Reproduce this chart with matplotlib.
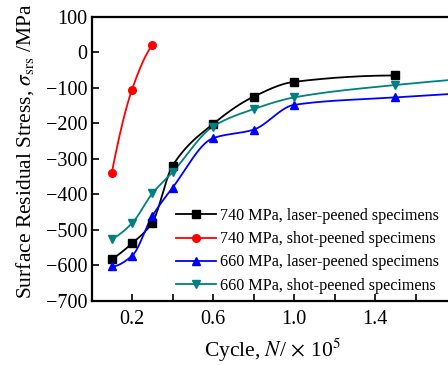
import numpy as np
import matplotlib
matplotlib.use("Agg")
import matplotlib.pyplot as plt
from matplotlib.ticker import MultipleLocator, FixedLocator, FuncFormatter

plt.rcParams['font.family'] = ['Liberation Serif', 'DejaVu Serif']
plt.rcParams['mathtext.fontset'] = 'stix'

# Data (cycles in units of 1e5, stress in MPa)
x_740_laser = [0.1, 0.2, 0.3, 0.4, 0.6, 0.8, 1.0, 1.5]
y_740_laser = [-584, -539, -480, -320, -202, -125, -83, -65]

x_740_shot = [0.1, 0.2, 0.3]
y_740_shot = [-340, -105, 20]

x_660_laser = [0.1, 0.2, 0.3, 0.4, 0.6, 0.8, 1.0, 1.5, 2.0]
y_660_laser = [-604, -574, -462, -382, -242, -218, -148, -127, -110]

x_660_shot = [0.1, 0.2, 0.3, 0.4, 0.6, 0.8, 1.0, 1.5, 2.0]
y_660_shot = [-526, -482, -398, -338, -209, -160, -127, -92, -68]

labels = ["740 MPa, laser-peened specimens",
          "740 MPa, shot-peened specimens",
          "660 MPa, laser-peened specimens",
          "660 MPa, shot-peened specimens"]
colors = ["black", "red", "blue", "#008080"]
markers = ["s", "o", "^", "v"]


def pchip(x, y, n=400):
    """Monotone piecewise cubic (Fritsch-Carlson) curve through the points."""
    x = np.asarray(x, float)
    y = np.asarray(y, float)
    h = np.diff(x)
    d = np.diff(y) / h
    m = np.zeros_like(y)
    for i in range(1, len(x) - 1):
        if d[i - 1] * d[i] > 0:
            w1 = 2 * h[i] + h[i - 1]
            w2 = h[i] + 2 * h[i - 1]
            m[i] = (w1 + w2) / (w1 / d[i - 1] + w2 / d[i])
    m[0] = d[0]
    m[-1] = d[-1]
    if len(x) > 2:
        m[0] = ((2 * h[0] + h[1]) * d[0] - h[0] * d[1]) / (h[0] + h[1])
        if np.sign(m[0]) != np.sign(d[0]):
            m[0] = 0
        m[-1] = ((2 * h[-1] + h[-2]) * d[-1] - h[-1] * d[-2]) / (h[-1] + h[-2])
        if np.sign(m[-1]) != np.sign(d[-1]):
            m[-1] = 0
    xs = np.linspace(x[0], x[-1], n)
    idx = np.clip(np.searchsorted(x, xs, side='right') - 1, 0, len(x) - 2)
    t = (xs - x[idx]) / h[idx]
    h00 = 2 * t ** 3 - 3 * t ** 2 + 1
    h10 = t ** 3 - 2 * t ** 2 + t
    h01 = -2 * t ** 3 + 3 * t ** 2
    h11 = t ** 3 - t ** 2
    ys = (h00 * y[idx] + h10 * h[idx] * m[idx] + h01 * y[idx + 1]
          + h11 * h[idx] * m[idx + 1])
    return xs, ys


W, H = 448, 365
fig = plt.figure(figsize=(W / 100, H / 100), dpi=100)
left, bottom = 91.5 / W, 64.5 / H
ax = fig.add_axes([left, bottom, 405 / W, 283.5 / H])

series = [(x_740_laser, y_740_laser), (x_740_shot, y_740_shot),
          (x_660_laser, y_660_laser), (x_660_shot, y_660_shot)]
handles = []
for (xs, ys), c, mk, lb in zip(series, colors, markers, labels):
    sx, sy = pchip(xs, ys)
    ax.plot(sx, sy, color=c, lw=1.3, zorder=2)
    ax.plot(xs, ys, linestyle='none', marker=mk, color=c, ms=5.5, zorder=3,
            clip_on=False)
    h, = ax.plot([], [], color=c, lw=1.3, marker=mk, ms=5.5, label=lb)
    handles.append(h)

ax.set_xlim(0, 2.0)
ax.set_ylim(-700, 100)
ax.xaxis.set_major_locator(FixedLocator([0.2, 0.6, 1.0, 1.4]))
ax.xaxis.set_minor_locator(FixedLocator([0.4, 0.8, 1.2, 1.6, 1.8, 2.0]))
ax.yaxis.set_major_locator(MultipleLocator(100))
ax.xaxis.set_major_formatter(FuncFormatter(lambda v, p: f"{v:.1f}"))
ax.yaxis.set_major_formatter(FuncFormatter(
    lambda v, p: f"{int(v)}".replace('-', '\u2212')))

ax.tick_params(axis='both', which='both', direction='in', labelsize=14.5,
               width=1.2, top=False, right=False)
ax.tick_params(axis='x', which='major', length=5, pad=7)
ax.tick_params(axis='x', which='minor', length=5)
ax.tick_params(axis='y', which='major', length=5, pad=3)
for s in ax.spines.values():
    s.set_linewidth(1.6)

ax.set_xlabel(r"Cycle, $N$/$\,\times\,$10$^5$", fontsize=15.5)
ax.xaxis.set_label_coords((272 - 91.5) / 405, -(350 - 300.5) / 283.5)
ax.xaxis.label.set_va('center')
ax.set_ylabel(r"Surface Residual Stress, $\sigma_{\rm srs}$ /MPa", fontsize=15.5)
ax.yaxis.set_label_coords(-(91.5 - 25) / 405, (300.5 - 151) / 283.5)
ax.yaxis.label.set_va('center')

leg = fig.legend(handles=handles, loc='upper left',
                 bbox_to_anchor=(176 / W, 1 - 208 / H), frameon=False,
                 fontsize=11.6, handlelength=2.5, handletextpad=0.2,
                 labelspacing=0.45, borderaxespad=0, borderpad=0)

fig.savefig("out.png", dpi=100)
